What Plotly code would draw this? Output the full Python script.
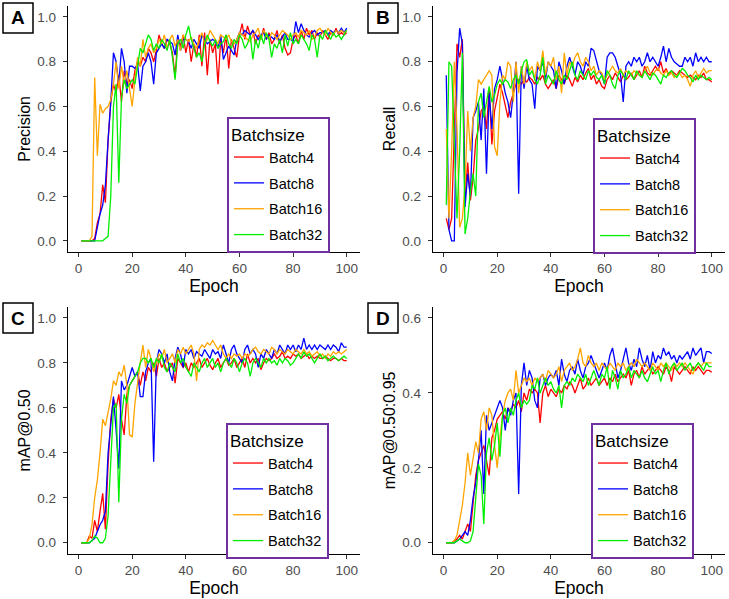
import plotly.graph_objects as go

epochs = list(range(1, 101))
batch_names = ["Batch4", "Batch8", "Batch16", "Batch32"]
batch_colors = ["#FF0000", "#0000FF", "#FFA500", "#00EE00"]

precision_b4 = [0,0,0,0,0,0.01,0.08,0.12,0.25,0.17, 0.45,0.62,0.70,0.66,0.74,0.62,0.76,0.70,0.72,0.68, 0.76,0.80,0.78,0.82,0.80,0.86,0.84,0.80,0.85,0.92, 0.88,0.86,0.90,0.88,0.84,0.73,0.91,0.87,0.92,0.84, 0.90,0.80,0.88,0.82,0.92,0.78,0.93,0.74,0.90,0.84, 0.88,0.70,0.90,0.84,0.92,0.77,0.90,0.86,0.82,0.92, 0.97,0.90,0.96,0.92,0.94,0.88,0.92,0.90,0.95,0.90, 0.93,0.88,0.90,0.94,0.88,0.92,0.86,0.83,0.84,0.90, 0.92,0.88,0.94,0.90,0.95,0.92,0.94,0.90,0.93,0.91, 0.94,0.92,0.90,0.93,0.92,0.95,0.92,0.93,0.92,0.93]
precision_b8 = [0,0,0,0,0,0,0.06,0.12,0.16,0.25, 0.45,0.62,0.84,0.80,0.70,0.86,0.80,0.66,0.78,0.78, 0.77,0.79,0.67,0.78,0.80,0.84,0.80,0.70,0.84,0.86, 0.88,0.86,0.90,0.89,0.88,0.83,0.92,0.85,0.90,0.90, 0.89,0.86,0.90,0.88,0.86,0.92,0.90,0.88,0.89,0.90, 0.89,0.86,0.92,0.81,0.84,0.87,0.85,0.83,0.90,0.93, 0.92,0.94,0.93,0.92,0.94,0.92,0.90,0.92,0.93,0.90, 0.92,0.91,0.90,0.92,0.89,0.91,0.93,0.90,0.90,0.89, 0.98,0.93,0.97,0.94,0.92,0.91,0.93,0.94,0.92,0.93, 0.93,0.94,0.92,0.94,0.93,0.94,0.93,0.95,0.93,0.95]
precision_b16 = [0,0,0,0,0.02,0.73,0.38,0.61,0.57,0.59, 0.60,0.63,0.70,0.80,0.68,0.78,0.70,0.76,0.68,0.60, 0.72,0.82,0.78,0.90,0.82,0.86,0.88,0.84,0.86,0.90, 0.88,0.92,0.86,0.90,0.92,0.87,0.90,0.85,0.92,0.90, 0.89,0.91,0.88,0.86,0.90,0.93,0.88,0.90,0.94,0.92, 0.90,0.88,0.92,0.91,0.90,0.92,0.89,0.88,0.90,0.93, 0.92,0.91,0.90,0.89,0.92,0.93,0.95,0.90,0.94,0.92, 0.90,0.93,0.92,0.90,0.92,0.94,0.93,0.92,0.90,0.92, 0.93,0.91,0.94,0.93,0.92,0.94,0.90,0.91,0.94,0.95, 0.93,0.92,0.95,0.93,0.92,0.94,0.93,0.94,0.93,0.94]
precision_b32 = [0,0,0,0,0,0,0,0,0,0.01, 0.02,0.20,0.60,0.70,0.26,0.64,0.72,0.68,0.70,0.72, 0.70,0.78,0.86,0.84,0.88,0.92,0.90,0.85,0.88,0.86, 0.90,0.88,0.85,0.90,0.82,0.72,0.88,0.90,0.86,0.92, 0.96,0.90,0.86,0.82,0.84,0.80,0.88,0.92,0.89,0.87, 0.90,0.86,0.88,0.89,0.92,0.88,0.86,0.90,0.88,0.92, 0.90,0.86,0.88,0.92,0.81,0.90,0.86,0.92,0.88,0.93, 0.90,0.82,0.88,0.86,0.90,0.84,0.92,0.87,0.93,0.88, 0.90,0.88,0.92,0.90,0.88,0.85,0.92,0.90,0.82,0.92, 0.90,0.94,0.92,0.90,0.93,0.91,0.92,0.90,0.92,0.94]

recall_b4 = [0.10,0.05,0.10,0.45,0.88,0.82,0.90,0.20,0.35,0.18, 0.28,0.45,0.50,0.58,0.60,0.50,0.68,0.43,0.58,0.64, 0.70,0.66,0.60,0.55,0.62,0.66,0.70,0.72,0.70,0.72, 0.71,0.73,0.72,0.70,0.73,0.72,0.74,0.70,0.68,0.70, 0.72,0.68,0.74,0.72,0.70,0.74,0.72,0.69,0.73,0.71, 0.74,0.72,0.75,0.77,0.72,0.74,0.70,0.72,0.69,0.68, 0.72,0.74,0.72,0.75,0.73,0.71,0.74,0.72,0.73,0.75, 0.72,0.74,0.76,0.73,0.78,0.75,0.74,0.76,0.78,0.76, 0.80,0.75,0.77,0.74,0.76,0.75,0.74,0.76,0.75,0.74, 0.73,0.74,0.73,0.72,0.74,0.73,0.75,0.72,0.72,0.71]
recall_b8 = [0.74,0.05,0.00,0.00,0.75,0.95,0.88,0.15,0.30,0.20, 0.55,0.58,0.62,0.45,0.68,0.30,0.66,0.50,0.68,0.72, 0.78,0.72,0.66,0.62,0.55,0.66,0.80,0.21,0.78,0.68, 0.78,0.72,0.70,0.59,0.78,0.76,0.80,0.72,0.80,0.78, 0.76,0.68,0.80,0.76,0.70,0.78,0.82,0.78,0.74,0.80, 0.78,0.74,0.80,0.78,0.86,0.85,0.80,0.76,0.74,0.70, 0.82,0.84,0.84,0.82,0.78,0.74,0.62,0.78,0.80,0.78, 0.82,0.80,0.82,0.78,0.80,0.84,0.80,0.82,0.80,0.78, 0.82,0.87,0.80,0.86,0.82,0.80,0.79,0.78,0.78,0.82, 0.80,0.82,0.78,0.84,0.80,0.82,0.80,0.82,0.80,0.80]
recall_b16 = [0.50,0.10,0.40,0.80,0.50,0.06,0.10,0.25,0.58,0.40, 0.55,0.60,0.72,0.70,0.72,0.74,0.76,0.74,0.42,0.38, 0.62,0.74,0.72,0.80,0.78,0.62,0.80,0.66,0.78,0.70, 0.80,0.76,0.78,0.72,0.80,0.76,0.85,0.74,0.80,0.78, 0.82,0.72,0.78,0.66,0.84,0.74,0.80,0.78,0.82,0.84, 0.80,0.78,0.82,0.80,0.76,0.78,0.74,0.76,0.75,0.72, 0.74,0.76,0.78,0.76,0.75,0.77,0.74,0.76,0.75,0.74, 0.76,0.75,0.74,0.73,0.76,0.78,0.75,0.74,0.76,0.77, 0.75,0.74,0.76,0.74,0.75,0.73,0.74,0.75,0.73,0.74, 0.72,0.69,0.74,0.76,0.73,0.75,0.77,0.75,0.76,0.76]
recall_b32 = [0.16,0.80,0.78,0.40,0.10,0.40,0.84,0.03,0.10,0.22, 0.30,0.20,0.62,0.66,0.55,0.62,0.69,0.62,0.65,0.70, 0.72,0.70,0.72,0.71,0.68,0.72,0.74,0.70,0.76,0.80, 0.81,0.74,0.76,0.72,0.70,0.74,0.82,0.70,0.74,0.72, 0.70,0.76,0.72,0.70,0.74,0.72,0.76,0.80,0.74,0.72, 0.76,0.74,0.72,0.76,0.74,0.76,0.73,0.72,0.74,0.70, 0.76,0.74,0.70,0.68,0.74,0.76,0.74,0.72,0.76,0.74, 0.72,0.76,0.74,0.73,0.76,0.74,0.72,0.75,0.74,0.72, 0.70,0.74,0.73,0.75,0.76,0.74,0.73,0.75,0.77,0.76, 0.74,0.73,0.71,0.74,0.72,0.74,0.73,0.72,0.73,0.72]

map50_b4 = [0,0,0,0.03,0.02,0.10,0.05,0.14,0.22,0.06, 0.35,0.55,0.64,0.60,0.66,0.55,0.48,0.66,0.70,0.72, 0.74,0.76,0.70,0.76,0.72,0.78,0.76,0.80,0.74,0.82, 0.78,0.80,0.76,0.78,0.80,0.71,0.82,0.80,0.78,0.80, 0.76,0.80,0.78,0.80,0.82,0.78,0.80,0.82,0.79,0.77, 0.80,0.82,0.78,0.80,0.82,0.79,0.80,0.82,0.78,0.80, 0.82,0.78,0.84,0.80,0.82,0.80,0.82,0.77,0.80,0.82, 0.81,0.82,0.84,0.82,0.83,0.85,0.82,0.83,0.82,0.84, 0.83,0.84,0.82,0.83,0.84,0.82,0.83,0.82,0.83,0.82, 0.82,0.83,0.82,0.81,0.82,0.82,0.81,0.82,0.81,0.81]
map50_b8 = [0,0,0,0,0.01,0.02,0.05,0.08,0.10,0.14, 0.40,0.54,0.65,0.50,0.33,0.72,0.68,0.70,0.74,0.78, 0.74,0.76,0.65,0.65,0.76,0.80,0.82,0.36,0.80,0.86, 0.84,0.80,0.84,0.76,0.72,0.82,0.87,0.84,0.78,0.86, 0.84,0.86,0.82,0.85,0.84,0.83,0.86,0.84,0.82,0.86, 0.84,0.85,0.82,0.88,0.84,0.80,0.86,0.88,0.84,0.82, 0.80,0.86,0.88,0.84,0.86,0.84,0.78,0.84,0.82,0.86, 0.84,0.82,0.86,0.84,0.88,0.86,0.84,0.88,0.86,0.88, 0.85,0.88,0.86,0.91,0.86,0.88,0.86,0.88,0.86,0.88, 0.87,0.86,0.88,0.86,0.88,0.87,0.85,0.89,0.87,0.87]
map50_b16 = [0,0,0,0.02,0.08,0.20,0.28,0.40,0.55,0.52, 0.58,0.64,0.72,0.70,0.76,0.74,0.79,0.70,0.48,0.47, 0.62,0.72,0.80,0.88,0.78,0.86,0.82,0.76,0.80,0.84, 0.82,0.86,0.80,0.82,0.84,0.80,0.86,0.84,0.87,0.84, 0.86,0.88,0.84,0.72,0.86,0.88,0.87,0.89,0.88,0.90, 0.88,0.86,0.88,0.84,0.82,0.84,0.82,0.84,0.83,0.84, 0.82,0.84,0.83,0.84,0.86,0.87,0.85,0.84,0.86,0.85, 0.84,0.87,0.86,0.84,0.86,0.85,0.84,0.86,0.85,0.84, 0.86,0.85,0.84,0.86,0.84,0.85,0.83,0.84,0.85,0.83, 0.84,0.82,0.84,0.83,0.85,0.84,0.85,0.84,0.85,0.86]
map50_b32 = [0,0,0,0,0.01,0.03,0.02,0,0,0.02, 0.12,0.38,0.60,0.62,0.18,0.55,0.66,0.62,0.70,0.72, 0.74,0.76,0.80,0.82,0.82,0.80,0.82,0.78,0.82,0.80, 0.84,0.78,0.76,0.80,0.78,0.76,0.84,0.80,0.82,0.78, 0.76,0.74,0.80,0.78,0.76,0.80,0.82,0.78,0.80,0.82, 0.78,0.80,0.76,0.80,0.82,0.80,0.78,0.82,0.80,0.76, 0.80,0.82,0.80,0.74,0.80,0.82,0.80,0.78,0.82,0.80, 0.82,0.80,0.81,0.79,0.82,0.80,0.82,0.81,0.79,0.80, 0.82,0.84,0.82,0.85,0.83,0.84,0.82,0.80,0.82,0.84, 0.82,0.83,0.81,0.82,0.83,0.82,0.81,0.82,0.83,0.82]

map5095_b4 = [0,0,0,0.005,0.01,0.02,0.01,0.03,0.05,0.03, 0.10,0.18,0.22,0.24,0.26,0.22,0.18,0.28,0.30,0.33, 0.34,0.35,0.33,0.36,0.35,0.37,0.36,0.38,0.35,0.40, 0.38,0.41,0.40,0.41,0.40,0.32,0.40,0.42,0.39,0.41, 0.40,0.39,0.41,0.40,0.42,0.41,0.43,0.42,0.40,0.42, 0.44,0.41,0.42,0.44,0.42,0.43,0.44,0.42,0.43,0.44, 0.42,0.44,0.43,0.45,0.43,0.44,0.45,0.44,0.46,0.42, 0.45,0.46,0.44,0.47,0.45,0.46,0.47,0.45,0.46,0.47, 0.46,0.45,0.47,0.46,0.43,0.47,0.46,0.45,0.46,0.47, 0.46,0.45,0.47,0.46,0.47,0.46,0.45,0.46,0.46,0.455]
map5095_b8 = [0,0,0,0,0.005,0.01,0.02,0.03,0.02,0.06, 0.12,0.16,0.22,0.30,0.13,0.34,0.30,0.32,0.34,0.36, 0.38,0.36,0.30,0.36,0.34,0.38,0.40,0.13,0.42,0.48, 0.42,0.46,0.44,0.38,0.36,0.44,0.45,0.42,0.44,0.45, 0.44,0.46,0.42,0.49,0.45,0.43,0.46,0.47,0.45,0.49, 0.46,0.44,0.47,0.48,0.50,0.48,0.46,0.44,0.46,0.48, 0.46,0.50,0.52,0.48,0.44,0.46,0.49,0.52,0.48,0.46, 0.49,0.47,0.52,0.49,0.47,0.50,0.46,0.51,0.48,0.50, 0.49,0.52,0.50,0.51,0.49,0.50,0.48,0.50,0.49,0.50, 0.51,0.49,0.52,0.50,0.51,0.52,0.48,0.51,0.51,0.505]
map5095_b16 = [0,0,0,0.005,0.02,0.06,0.10,0.16,0.24,0.18, 0.22,0.27,0.24,0.33,0.35,0.30,0.36,0.34,0.26,0.20, 0.28,0.34,0.38,0.40,0.41,0.38,0.46,0.40,0.42,0.44, 0.43,0.44,0.42,0.44,0.43,0.44,0.45,0.43,0.46,0.45, 0.44,0.45,0.47,0.43,0.46,0.47,0.48,0.46,0.47,0.49, 0.52,0.48,0.47,0.50,0.48,0.47,0.48,0.46,0.48,0.47, 0.46,0.48,0.47,0.46,0.48,0.47,0.48,0.46,0.47,0.48, 0.47,0.49,0.48,0.47,0.48,0.47,0.46,0.48,0.47,0.46, 0.48,0.47,0.48,0.47,0.46,0.48,0.47,0.48,0.47,0.48, 0.47,0.46,0.45,0.47,0.48,0.47,0.48,0.48,0.48,0.48]
map5095_b32 = [0,0,0,0,0.005,0.01,0.005,0,0,0.005, 0.03,0.12,0.21,0.18,0.05,0.24,0.28,0.22,0.26,0.32, 0.23,0.34,0.36,0.32,0.36,0.34,0.38,0.40,0.36,0.38, 0.37,0.38,0.42,0.41,0.44,0.40,0.42,0.44,0.42,0.43, 0.41,0.40,0.42,0.36,0.42,0.43,0.42,0.44,0.43,0.45, 0.44,0.43,0.45,0.42,0.44,0.46,0.44,0.42,0.45,0.44, 0.47,0.41,0.46,0.44,0.41,0.46,0.44,0.45,0.47,0.44, 0.46,0.45,0.44,0.46,0.44,0.43,0.45,0.47,0.45,0.46, 0.43,0.46,0.48,0.45,0.47,0.48,0.46,0.47,0.48,0.46, 0.47,0.48,0.46,0.47,0.48,0.47,0.46,0.48,0.47,0.47]

panel_letters = ["A", "B", "C", "D"]
panel_ytitles = ["Precision", "Recall", "mAP@0.50", "mAP@0.50:0.95"]
panel_series = [
    [precision_b4, precision_b8, precision_b16, precision_b32],
    [recall_b4, recall_b8, recall_b16, recall_b32],
    [map50_b4, map50_b8, map50_b16, map50_b32],
    [map5095_b4, map5095_b8, map5095_b16, map5095_b32],
]
x_ticks = [0, 20, 40, 60, 80, 100]
y_ticks = [[0, 0.2, 0.4, 0.6, 0.8, 1.0]] * 3 + [[0, 0.2, 0.4, 0.6]]
y_ranges = [[-0.05, 1.05]] * 3 + [[-0.03, 0.63]]

W, H = 729, 599
FONT = "Arial, 'Liberation Sans', sans-serif"

def px_x(p):
    return p / W

def px_y(p):
    return 1 - p / H

# panel pixel boxes: left, right, top, bottom
panel_boxes = [
    (68, 360, 5.8, 252),
    (433, 725, 5.8, 252),
    (68, 360, 306.75, 554),
    (433, 725, 306.75, 554),
]
legend_pos = [(227, 117), (593, 118), (226, 423), (591, 423)]
label_boxes = [(3, 3), (368, 3), (3, 303), (368, 303)]

fig = go.Figure()
layout = dict(
    width=W, height=H,
    margin=dict(l=0, r=0, t=0, b=0),
    paper_bgcolor="white", plot_bgcolor="white",
    font=dict(family=FONT, color="black"),
    showlegend=True,
)
shapes = []
annotations = []

for i in range(4):
    sfx = "" if i == 0 else str(i + 1)
    xa, ya = "x" + sfx, "y" + sfx
    lg = "legend" + sfx
    for j in range(4):
        fig.add_trace(go.Scatter(
            x=epochs, y=panel_series[i][j], mode="lines",
            name=batch_names[j], line=dict(color=batch_colors[j], width=1.3),
            xaxis=xa, yaxis=ya, legend=lg, legendgroup=f"p{i}b{j}",
        ))
    l, r, t, b = panel_boxes[i]
    axis_common = dict(
        showline=True, linecolor="black", linewidth=1.3, mirror=False,
        showgrid=False, zeroline=False, ticks="outside", ticklen=4,
        tickcolor="#333333", tickwidth=1,
        tickfont=dict(family=FONT, size=13.5, color="#4D4D4D"),
    )
    layout["xaxis" + sfx] = dict(
        axis_common, domain=[px_x(l), px_x(r)], anchor=ya,
        range=[-3.95, 104.95], tickvals=x_ticks,
        title=dict(text="Epoch", font=dict(family=FONT, size=17.5, color="black"), standoff=0),
    )
    layout["yaxis" + sfx] = dict(
        axis_common, domain=[px_y(b), px_y(t)], anchor=xa,
        range=y_ranges[i], tickvals=y_ticks[i], tickformat=".1f",
        ticklabelstandoff=4,
        title=dict(text=panel_ytitles[i], font=dict(family=FONT, size=16, color="black"), standoff=2),
    )
    lx, ly = legend_pos[i]
    layout[lg] = dict(
        x=px_x(lx), y=px_y(ly), xanchor="left", yanchor="top",
        xref="paper", yref="paper",
        bgcolor="white", bordercolor="#7030A0", borderwidth=2,
        title=dict(text="Batchsize", font=dict(family=FONT, size=17, color="black")),
        font=dict(family=FONT, size=14.5, color="black"),
        tracegroupgap=4, itemclick=False, itemdoubleclick=False,
    )
    bx, by = label_boxes[i]
    shapes.append(dict(type="rect", xref="paper", yref="paper",
                       x0=px_x(bx), x1=px_x(bx + 30), y0=px_y(by + 30), y1=px_y(by),
                       line=dict(color="black", width=1.5), fillcolor="white"))
    annotations.append(dict(text=f"<b>{panel_letters[i]}</b>", xref="paper", yref="paper",
                            x=px_x(bx + 15), y=px_y(by + 15), xanchor="center", yanchor="middle",
                            showarrow=False, font=dict(family=FONT, size=19, color="black")))

layout["shapes"] = shapes
layout["annotations"] = annotations
fig.update_layout(**layout)
fig.write_html("out.html", config={"displayModeBar": False},
               post_script="document.body.style.margin='0px';")
